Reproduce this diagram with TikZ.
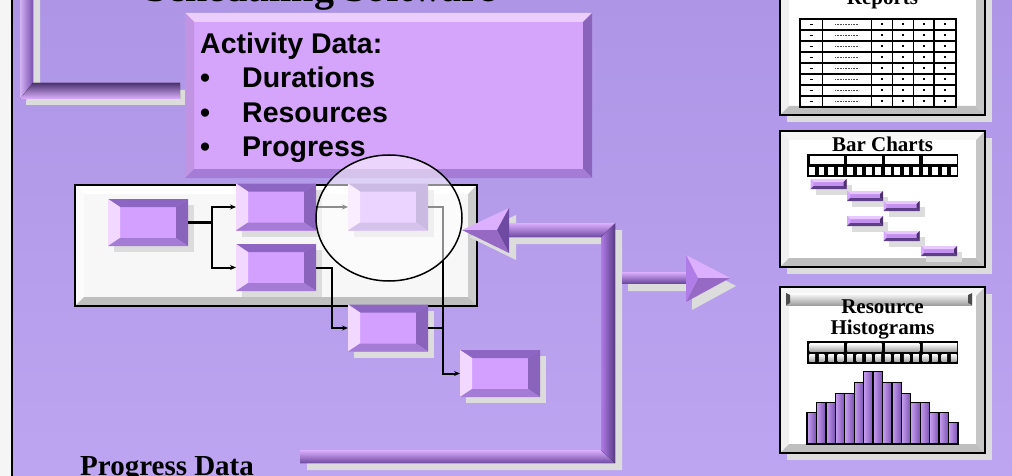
\documentclass[tikz,border=0pt]{standalone}
\usepackage{fontspec}
\setmainfont{Liberation Serif}
\setsansfont{Liberation Sans}
\usetikzlibrary{calc,shadows,arrows.meta,shapes.geometric}
\definecolor{bgtop}{HTML}{AE95E6}
\definecolor{bgbot}{HTML}{BDA5F1}
\definecolor{vio}{HTML}{D4A0FF}
\definecolor{viotop}{HTML}{8C66C2}
\definecolor{violeft}{HTML}{F2D8FF}
\definecolor{vioright}{HTML}{8A64BC}
\definecolor{viobot}{HTML}{A47CD6}
\definecolor{actfill}{HTML}{D5A4FB}
\definecolor{shd}{HTML}{DCDCDC}
\definecolor{barlt}{HTML}{DDB0FF}
\definecolor{barmd}{HTML}{B07CE8}
\definecolor{bardk}{HTML}{6E4AA2}
\definecolor{gcen}{HTML}{C490F0}
\definecolor{gtop}{HTML}{E8C8FF}
\definecolor{gleft}{HTML}{D8A8FF}
\definecolor{gright}{HTML}{4E3072}
\definecolor{gbot}{HTML}{5E3E88}
\definecolor{hl}{HTML}{C8A0F0}
\definecolor{hd}{HTML}{7A50B0}
\newcommand\bev[7]{%
 \fill[#4] (#1.north west) -- (#1.north east) -- ($(#1.north east)+(-#2,#3)$) -- ($(#1.north west)+(#2,#3)$) -- cycle;
 \fill[#5] (#1.north west) -- (#1.south west) -- ($(#1.south west)+(#2,-#3)$) -- ($(#1.north west)+(#2,#3)$) -- cycle;
 \fill[#6] (#1.north east) -- (#1.south east) -- ($(#1.south east)+(-#2,-#3)$) -- ($(#1.north east)+(-#2,#3)$) -- cycle;
 \fill[#7] (#1.south west) -- (#1.south east) -- ($(#1.south east)+(-#2,-#3)$) -- ($(#1.south west)+(#2,-#3)$) -- cycle;
}
\newcommand\tbev[1]{\bev{#1}{12}{8}{viotop}{violeft}{vioright}{viobot}}
\newcommand\gbev[1]{\bev{#1}{3}{3}{gtop}{gleft}{gright}{gbot}}
\newcommand\pbev[1]{\bev{#1}{9}{9}{gray!8}{gray!12}{gray!45}{gray!50}\draw[line width=2pt] (#1.north west) rectangle (#1.south east);}
\newcommand\tscale[2]{%
 \fill[black] (807,{#1}) rectangle (958,{#1+23});
 \foreach \k in {0,...,3} \fill[#2] ({807+2.5+\k*37.75},{#1+2.5}) rectangle ({807+(\k+1)*37.75-1},{#1+10});
 \foreach \j in {0,...,15} \fill[#2] ({807+2.4+\j*9.4375},{#1+13}) rectangle ({807+\j*9.4375+8},{#1+20.5});
}
\newcommand\actfont{\sffamily\bfseries\fontsize{28.5}{32}\selectfont}
\tikzset{
 tbox/.style={rectangle, minimum width=80pt, minimum height=47pt, inner sep=0pt, outer sep=0pt, fill=vio,
   drop shadow={shadow xshift=6pt, shadow yshift=-6pt, fill=shd, opacity=1}},
 conn/.style={line width=2pt, -{Stealth[length=6pt,width=5pt]}},
 panel/.style={rectangle, inner sep=0pt, outer sep=0pt, fill=white, minimum width=205pt,
   drop shadow={shadow xshift=7pt, shadow yshift=-7pt, fill=shd, opacity=1}},
 ttl/.style={font=\bfseries\fontsize{21}{22}\selectfont, inner sep=0pt, anchor=base},
 gbar/.style={rectangle, minimum width=36pt, minimum height=10pt, inner sep=0pt, outer sep=0pt, fill=gcen,
   drop shadow={shadow xshift=5pt, shadow yshift=-6pt, fill=shd, opacity=1}},
 acttext/.style={font=\actfont, inner sep=0pt, anchor=base west},
}
\begin{document}
\begin{tikzpicture}[x=1pt,y=-1pt]
\useasboundingbox (0,0) rectangle (1012,476);
\clip (0,0) rectangle (1012,476);
% background
\fill[top color=bgtop, bottom color=bgbot] (13,0) rectangle (1012,476);
\fill[gray!8] (0,0) rectangle (11,476);
\fill[black] (11,0) rectangle (13,476);
% title
\node[font=\bfseries\fontsize{40}{44}\selectfont, inner sep=0pt, anchor=base west] (title) at (145,2) {Scheduling Software};
% top-left bent bar
\fill[shd] (33,-5) -- (40,-5) -- (40,90) -- (186,90) -- (186,105) -- (26,105) -- cycle;
\fill[left color=hl!80!white, right color=hd] (20,-5) -- (33,-5) -- (33,83) -- (20,99) -- cycle;
\fill[top color=bardk!70!black, bottom color=barlt] (33,83) -- (180,83) -- (180,99) -- (20,99) -- cycle;
% network box
\node[rectangle, minimum width=402pt, minimum height=121pt, inner sep=0pt, outer sep=0pt, fill=gray!6] (G) at (276,245.5) {};
\bev{G}{9}{9}{white}{white!97!gray}{gray!40}{gray!50}
\draw[line width=2pt] (G.north west) rectangle (G.south east);
% task boxes
\node[tbox] (A) at (148,222.5) {};
\node[tbox] (B) at (276,207) {};
\node[tbox] (C) at (388,207) {};
\node[tbox] (D) at (276,267.5) {};
\node[tbox] (E) at (388,328) {};
\node[tbox] (F) at (500,373.5) {};
\tbev{A}\tbev{B}\tbev{C}\tbev{D}\tbev{E}\tbev{F}
% connectors
\coordinate (j1) at ($(A.east)+(24,0)$);
\coordinate (j2) at ($(C.east)+(15,0)$);
\draw[line width=3.5pt] (A.east) -- (j1);
\draw[conn] (j1) |- (B.west);
\draw[conn] (j1) |- (D.west);
\draw[conn] (B.east) -- (C.west);
\draw[conn] (C.east) -- (j2) |- (F.west);
\draw[conn] (D.east) -- ++(16,0) |- (E.west);
\draw[line width=2pt] (E.east) -- (E.east -| j2);
% activity box
\node[rectangle, minimum width=407pt, minimum height=165pt, inner sep=0pt, outer sep=0pt, fill=actfill] (act) at (388.5,95.5) {};
\bev{act}{9}{9}{violeft!80!actfill}{actfill!90!black}{vioright}{viobot}
\node[acttext] (t0) at (200,54) {Activity Data:};
\node[acttext] (b1) at (200,88) {•};
\node[acttext] (t1) at (242,88) {Durations};
\node[acttext] (b2) at (200,123) {•};
\node[acttext] (t2) at (242,123) {Resources};
\node[acttext] (b3) at (200,157) {•};
\node[acttext] (t3) at (242,157) {Progress};
% magnifier lens
\node[ellipse, minimum width=146pt, minimum height=126pt, inner sep=0pt, draw=black, line width=1.5pt, fill=white, fill opacity=0.55] (lens) at (389,218) {};
% bottom bent arrow (shadow)
\begin{scope}[shift={(7,7)}]
\fill[shd] (300,450) -- (601,450) -- (601,237) -- (509,237) -- (509,253) -- (462,230) -- (509,208) -- (509,223) -- (615,223) -- (615,463) -- (300,463) -- cycle;
\end{scope}
\fill[top color=barlt, bottom color=bardk] (300,450) -- (601,450) -- (615,463) -- (300,463) -- cycle;
\fill[left color=barmd, right color=bardk!80!black] (601,450) -- (601,237) -- (615,223) -- (615,463) -- cycle;
\fill[top color=barlt, bottom color=bardk] (509,223) -- (615,223) -- (601,237) -- (509,237) -- cycle;
\coordinate (h1tip) at (462,230);
\coordinate (h1c) at (497,230);
\fill[barlt] (h1tip) -- (509,208) -- (h1c) -- cycle;
\fill[barmd!85!black] (h1tip) -- (h1c) -- (509,253) -- cycle;
\fill[bardk] (509,208) -- (509,253) -- (h1c) -- cycle;
% right arrow
\begin{scope}[shift={(6,8)}]
\fill[shd] (622,272) -- (686,272) -- (686,255) -- (730,278) -- (686,302) -- (686,283) -- (622,283) -- cycle;
\end{scope}
\fill[top color=barlt, bottom color=bardk] (622,272) rectangle (686,283);
\coordinate (h2tip) at (730,278);
\coordinate (h2c) at (698,278);
\fill[barlt] (686,255) -- (h2tip) -- (h2c) -- cycle;
\fill[barmd!85!black] (h2c) -- (h2tip) -- (686,302) -- cycle;
\fill[barmd] (686,255) -- (h2c) -- (686,302) -- cycle;
% panels
\node[panel, minimum height=140pt] (P1) at (882.5,45) {};
\node[panel, minimum height=136pt] (P2) at (882.5,199) {};
\node[panel, minimum height=166pt] (P3) at (882.5,370) {};
\pbev{P1}\pbev{P2}\pbev{P3}
% reports
\node[ttl] (rt) at (882.5,5) {Reports};
\foreach \yy in {19,30,...,107} \draw[line width=1.2pt] (800,\yy) -- (955.7,\yy);
\foreach \xx in {800,822.7,871.7,892.7,913.3,934,955.7} \draw[line width=1.2pt] (\xx,19) -- (\xx,107);
\draw[line width=2pt] (800,19) rectangle (955.7,107);
\foreach \r in {0,...,7} {
  \pgfmathsetmacro\yc{24.5+11*\r}
  \fill ({809.8},{\yc-0.8}) rectangle ({812.8},{\yc+0.8});
  \draw[line width=1.5pt, dash pattern=on 1pt off 0.6pt, gray!60!black] (835,\yc) -- (859,\yc);
  \foreach \cx in {882.2,903,923.6,944.8} \fill ({\cx-1},{\yc-1}) rectangle ({\cx+1},{\yc+1});
}
% bar charts
\node[ttl] (bt) at (882.5,151) {Bar Charts};
\tscale{154}{white}
\node[gbar] (g1) at (828.5,184) {};
\node[gbar] (g2) at (865,196) {};
\node[gbar] (g3) at (901.5,206) {};
\node[gbar] (g4) at (865,221) {};
\node[gbar] (g5) at (901.5,236) {};
\node[gbar] (g6) at (939,251) {};
\gbev{g1}\gbev{g2}\gbev{g3}\gbev{g4}\gbev{g5}\gbev{g6}
% resource histograms
\shade[top color=white, bottom color=gray!75] (786,293) rectangle (972,305);
\fill[gray!60!black] (786,293) -- (790,295) -- (790,303) -- (786,305) -- cycle;
\fill[gray!60!black] (972,293) -- (968,295) -- (968,303) -- (972,305) -- cycle;
\node[ttl] (ht1) at (882.5,313) {Resource};
\node[ttl] (ht2) at (882.5,334) {Histograms};
\tscale{341}{top color=white, bottom color=gray!70}
\foreach \i/\t in {0/412.7,1/402.7,2/402.7,3/393.3,4/393.3,5/382.7,6/371.7,7/371.7,8/382.7,9/382.7,10/393.3,11/402.7,12/402.7,13/412.7,14/412.7,15/422.7}
  \draw[line width=1.3pt, left color=hl, right color=hd] ({807+\i*9.4375},444) rectangle ({807+(\i+1)*9.4375},\t);
% progress data
\node[font=\bfseries\fontsize{29}{32}\selectfont, inner sep=0pt, anchor=base west] (pd) at (80,475) {Progress Data};
\end{tikzpicture}
\end{document}
